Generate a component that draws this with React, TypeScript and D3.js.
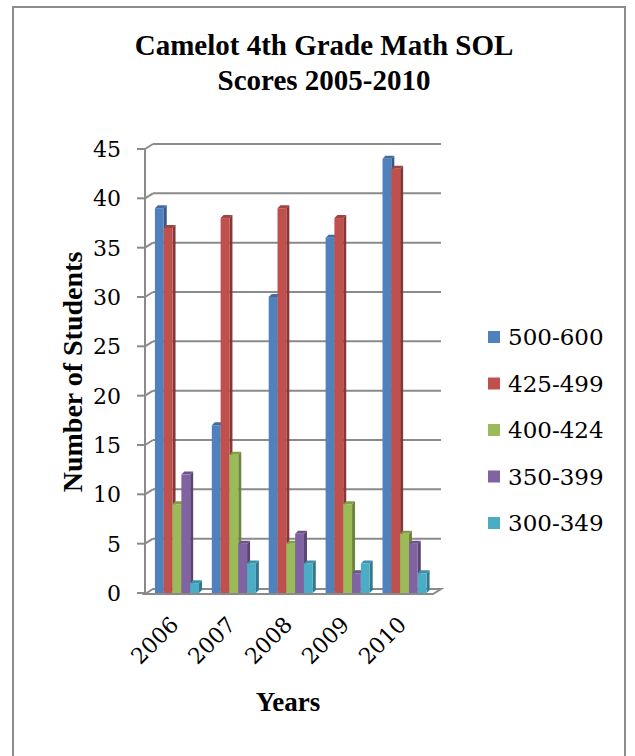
import React from "react";
import * as d3 from "d3";

// Score bands (series) and the school years (categories)
const years = ["2006", "2007", "2008", "2009", "2010"];
const bands = ["500-600", "425-499", "400-424", "350-399", "300-349"];
const bandColors = ["#4F81BD", "#C0504D", "#9BBB59", "#8064A2", "#4BACC6"];

// Number of students per band, one array per band, in year order
const band500 = [39, 17, 30, 36, 44];
const band425 = [37, 38, 39, 38, 43];
const band400 = [9, 14, 5, 9, 6];
const band350 = [12, 5, 6, 2, 5];
const band300 = [1, 3, 3, 3, 2];
const seriesValues = [band500, band425, band400, band350, band300];

const yTicks = [0, 5, 10, 15, 20, 25, 30, 35, 40, 45];

const titleLines = ["Camelot 4th Grade Math SOL", "Scores 2005-2010"];
const yTitle = "Number of Students";
const xTitle = "Years";

const W = 635;
const H = 756;
const BOLD_FONT = "Liberation Serif, DejaVu Serif, serif";
const FONT = "DejaVu Serif, Liberation Serif, serif";
const GRID = "#8a8a8a";

// plot frame
const axisX = 145;
const floorRight = 433;
const wallDx = 8;
const wallDy = -5;
const depth = 3;

export default function App() {
  const y = d3.scaleLinear().domain([0, 45]).range([593, 149]);
  const x0 = d3
    .scaleBand<string>()
    .domain(years)
    .range([148.5, floorRight])
    .paddingInner(0.225)
    .paddingOuter(0.1125);
  const x1 = d3.scaleBand<string>().domain(bands).range([0, x0.bandwidth()]).padding(0);
  const bw = x1.bandwidth();
  const y0 = y(0);

  const shade = (c: string, k: number) => d3.color(c)!.darker(k).formatHex();

  return (
    <svg
      width={W}
      height={H}
      style={{ position: "absolute", left: 0, top: 0, background: "#fff" }}
      xmlns="http://www.w3.org/2000/svg"
    >
      {/* outer frame */}
      <rect x={13} y={7} width={612} height={780} fill="#fff" stroke="#8c8c8c" strokeWidth={2} />

      {/* title */}
      <text textAnchor="middle" fontFamily={BOLD_FONT} fontWeight="bold" fontSize={29} fill="#000">
        <tspan x={324} y={55}>{titleLines[0]}</tspan>
        <tspan x={324} y={90}>{titleLines[1]}</tspan>
      </text>

      {/* back wall gridlines with their diagonal on the side wall */}
      {yTicks
        .filter((t) => t > 0)
        .map((t) => (
          <g key={t} stroke={GRID} strokeWidth={2} fill="none">
            <line x1={axisX} y1={y(t)} x2={axisX + wallDx} y2={y(t) + wallDy} />
            <line x1={axisX + wallDx} y1={y(t) + wallDy} x2={floorRight + wallDx} y2={y(t) + wallDy} />
          </g>
        ))}

      {/* floor */}
      <polygon
        points={[
          [axisX, y0 + 1],
          [axisX + wallDx, y0 + 1 + wallDy],
          [floorRight + wallDx, y0 + 1 + wallDy],
          [floorRight, y0 + 1],
        ]
          .map((p) => p.join(","))
          .join(" ")}
        fill="#fff"
        stroke={GRID}
        strokeWidth={2}
      />

      {/* value axis */}
      <line x1={axisX} y1={y(45)} x2={axisX} y2={y0 + 1} stroke={GRID} strokeWidth={2} />
      {yTicks.map((t) => (
        <g key={t}>
          <line x1={axisX - 8} y1={y(t)} x2={axisX} y2={y(t)} stroke={GRID} strokeWidth={2} />
          <text
            x={121}
            y={y(t)}
            dy="0.36em"
            textAnchor="end"
            fontFamily={FONT}
            fontSize={22}
            fill="#000"
          >
            {t}
          </text>
        </g>
      ))}

      {/* 3D columns */}
      {years.map((yr, i) => (
        <g key={yr}>
          {bands.map((b, s) => {
            const v = seriesValues[s][i];
            const bx = (x0(yr) ?? 0) + (x1(b) ?? 0);
            const top = y(v);
            const c = bandColors[s];
            const side = [
              [bx + bw, top],
              [bx + bw + depth, top - depth],
              [bx + bw + depth, y0 - depth],
              [bx + bw, y0],
            ];
            const cap = [
              [bx, top],
              [bx + depth, top - depth],
              [bx + bw + depth, top - depth],
              [bx + bw, top],
            ];
            return (
              <g key={b}>
                <polygon points={side.map((p) => p.join(",")).join(" ")} fill={shade(c, 1.0)} />
                <polygon points={cap.map((p) => p.join(",")).join(" ")} fill={shade(c, 0.5)} />
                <rect x={bx} y={top} width={bw} height={y0 - top} fill={c} />
              </g>
            );
          })}
        </g>
      ))}

      {/* category labels */}
      {years.map((yr) => {
        const cx = (x0(yr) ?? 0) + x0.bandwidth() / 2;
        return (
          <text
            key={yr}
            transform={`translate(${cx + 3},${626}) rotate(-45)`}
            textAnchor="end"
            fontFamily={FONT}
            fontSize={22}
            fill="#000"
          >
            {yr}
          </text>
        );
      })}

      {/* axis titles */}
      <text
        transform={`translate(82,372) rotate(-90)`}
        textAnchor="middle"
        fontFamily={BOLD_FONT}
        fontWeight="bold"
        fontSize={28}
        fill="#000"
      >
        {yTitle}
      </text>
      <text x={288} y={711} textAnchor="middle" fontFamily={BOLD_FONT} fontWeight="bold" fontSize={27} fill="#000">
        {xTitle}
      </text>

      {/* legend */}
      {bands.map((b, s) => {
        const cy = 337 + s * 46.5;
        return (
          <g key={b}>
            <rect x={488} y={cy - 6} width={12} height={12} fill={bandColors[s]} />
            <text x={508} y={cy} dy="0.36em" fontFamily={FONT} fontSize={23} fill="#000">
              {b}
            </text>
          </g>
        );
      })}
    </svg>
  );
}
